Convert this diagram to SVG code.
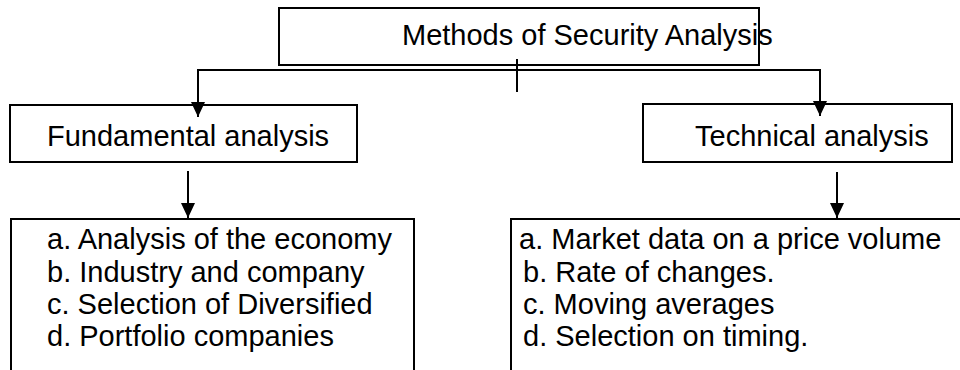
<svg xmlns="http://www.w3.org/2000/svg" width="960" height="370" viewBox="0 0 960 370">
<style>
.box{fill:#fff;stroke:#000;stroke-width:2}
.t{font-family:"Liberation Sans",Arial,sans-serif;font-size:29px;fill:#000}
.c{fill:none;stroke:#000;stroke-width:2}
</style>
<defs>
<marker id="ah" markerUnits="userSpaceOnUse" markerWidth="16" markerHeight="16" viewBox="0 0 16 16" refX="8" refY="15" orient="auto-start-reverse">
<path d="M1,0 L15,0 L8,15 Z" fill="#000" transform="rotate(-90 8 8)"/>
</marker>
<marker id="down" markerUnits="userSpaceOnUse" markerWidth="16" markerHeight="16" viewBox="0 0 16 16" refX="8" refY="15" orient="0">
<path d="M1,0 L15,0 L8,15 Z" fill="#000"/>
</marker>
</defs>
<g id="top">
<rect class="box" x="279" y="8" width="480" height="57"/>
<text class="t" x="402" y="45">Methods of Security Analysis</text>
</g>
<g id="fundamental">
<rect class="box" x="10" y="105" width="347" height="57"/>
<text class="t" x="47" y="146">Fundamental analysis</text>
</g>
<g id="technical">
<rect class="box" x="643" y="104" width="309" height="58"/>
<text class="t" x="695" y="146">Technical analysis</text>
</g>
<g id="fund-list">
<rect class="box" x="11" y="219" width="403" height="200"/>
<text class="t" x="47" y="249">a. Analysis of the economy</text>
<text class="t" x="47" y="282">b. Industry and company</text>
<text class="t" x="47" y="314">c. Selection of Diversified</text>
<text class="t" x="47" y="346">d. Portfolio companies</text>
</g>
<g id="tech-list">
<rect class="box" x="511" y="219" width="500" height="200"/>
<text class="t" x="519" y="249">a. Market data on a price volume</text>
<text class="t" x="523" y="282">b. Rate of changes.</text>
<text class="t" x="523" y="314">c. Moving averages</text>
<text class="t" x="523" y="346">d. Selection on timing.</text>
</g>
<g id="connectors">
<path class="c" d="M517,70 H198 V117" marker-end="url(#down)"/>
<path class="c" d="M517,70 H820 V116" marker-end="url(#down)"/>
<path class="c" d="M517,59 V92"/>
<path class="c" d="M188,171 V218" marker-end="url(#down)"/>
<path class="c" d="M837,172 V218" marker-end="url(#down)"/>
</g>
</svg>
